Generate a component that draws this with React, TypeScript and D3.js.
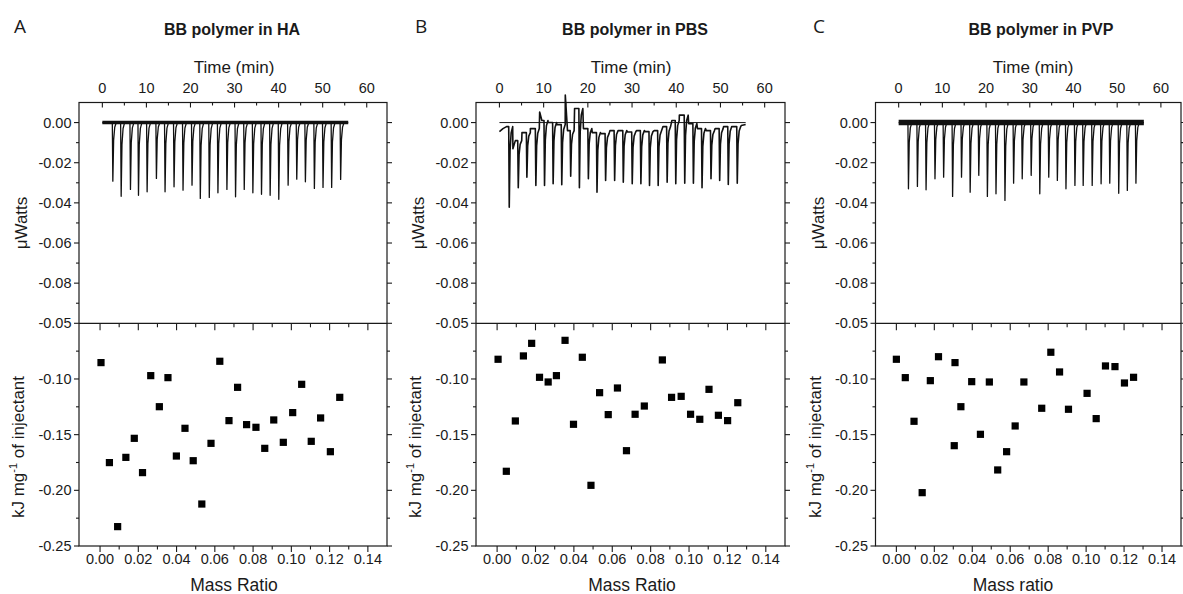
import React from 'react';
import * as d3 from 'd3';

// ---------- Data ----------
const panelLetters = ['A', 'B', 'C'];
const panelTitles = ['BB polymer in HA', 'BB polymer in PBS', 'BB polymer in PVP'];
const massTitles = ['Mass Ratio', 'Mass Ratio', 'Mass ratio'];
const timeTitle = 'Time (min)';
const powerTitle = 'μWatts';

// Integrated heats (kJ mg-1 of injectant) vs mass ratio
const massA = [0.0005, 0.0049, 0.0092, 0.0135, 0.0179, 0.0222, 0.0265, 0.031, 0.0355, 0.0399, 0.0444, 0.0487, 0.0532, 0.058, 0.0626, 0.0674, 0.0719, 0.0766, 0.0815, 0.0861, 0.0908, 0.0958, 0.1007, 0.1054, 0.1104, 0.1153, 0.1204, 0.1253];
const heatA = [-0.0853, -0.1751, -0.2326, -0.1704, -0.1533, -0.1841, -0.097, -0.1249, -0.0988, -0.1692, -0.1443, -0.1734, -0.2123, -0.1578, -0.0841, -0.1374, -0.1075, -0.141, -0.1434, -0.1623, -0.1368, -0.1569, -0.1302, -0.1048, -0.156, -0.135, -0.1653, -0.1165];

const massB = [0.0005, 0.0048, 0.0095, 0.0137, 0.018, 0.0221, 0.0266, 0.0309, 0.0354, 0.0398, 0.0444, 0.0489, 0.0534, 0.0579, 0.0627, 0.0674, 0.0719, 0.0767, 0.0861, 0.0909, 0.0959, 0.1008, 0.1056, 0.1104, 0.1153, 0.1201, 0.1254];
const heatB = [-0.0823, -0.1829, -0.1377, -0.0793, -0.068, -0.0985, -0.1027, -0.097, -0.0653, -0.1407, -0.0805, -0.1955, -0.1123, -0.132, -0.1081, -0.1644, -0.1317, -0.1243, -0.0829, -0.1165, -0.1156, -0.1317, -0.1362, -0.1093, -0.1326, -0.1374, -0.1213];

const massC = [0.0, 0.0047, 0.0093, 0.0136, 0.0179, 0.0222, 0.0305, 0.0309, 0.034, 0.0397, 0.0443, 0.049, 0.0534, 0.0581, 0.0626, 0.0672, 0.0766, 0.0814, 0.086, 0.0907, 0.1005, 0.1053, 0.1102, 0.1152, 0.1202, 0.125];
const heatC = [-0.0823, -0.0988, -0.138, -0.2021, -0.1015, -0.08, -0.1599, -0.0853, -0.1249, -0.1024, -0.1497, -0.1027, -0.1817, -0.1653, -0.1422, -0.1027, -0.1263, -0.076, -0.0937, -0.1272, -0.1129, -0.1356, -0.0883, -0.0889, -0.1036, -0.0985];

// Raw ITC power traces: injection times (min) and peak power (μW)
const spikeTimesA = [2.26, 4.15, 6.26, 8.08, 10.04, 12.15, 14.11, 16.15, 18.19, 20.23, 22.11, 24.15, 26.11, 28.15, 30.11, 32.08, 34.04, 36.0, 37.96, 39.92, 42.04, 44.0, 45.96, 48.0, 49.96, 51.92, 53.96];
const spikePeaksA = [-0.0292, -0.0367, -0.0333, -0.0362, -0.0345, -0.0278, -0.0345, -0.032, -0.0337, -0.0312, -0.0378, -0.0373, -0.035, -0.0333, -0.037, -0.0333, -0.035, -0.0357, -0.0362, -0.0382, -0.0312, -0.0282, -0.0295, -0.0328, -0.0323, -0.0323, -0.0283];
const baseTimesA = [0, 55.8];
const baseValsA = [0.0, 0.0];

const spikeTimesB = [2.1, 4.14, 6.09, 8.12, 10.08, 12.03, 13.98, 16.0, 17.97, 20.0, 21.95, 23.9, 25.94, 27.9, 29.92, 31.88, 33.83, 35.79, 37.82, 39.77, 41.8, 43.76, 45.71, 47.74, 49.7, 51.65, 53.68];
const spikePeaksB = [-0.0422, -0.0325, -0.0272, -0.0313, -0.0313, -0.0305, -0.031, -0.0267, -0.0325, -0.028, -0.0347, -0.0288, -0.0288, -0.0297, -0.0305, -0.0305, -0.0313, -0.0313, -0.0297, -0.0305, -0.0302, -0.0302, -0.0325, -0.028, -0.0288, -0.0308, -0.0302];
const baseTimesB = [0, 0.8, 1.6, 3.05, 3.6, 5.1, 7.0, 9.1, 9.6, 11.0, 13.0, 14.9, 15.4, 17.0, 19.0, 21.0, 23.0, 25.0, 27.0, 29.0, 31.0, 33.0, 35.0, 37.0, 39.0, 40.7, 42.8, 44.8, 46.8, 48.8, 50.7, 52.7, 54.7, 55.7];
const baseValsB = [-0.0045, -0.003, -0.002, -0.013, -0.009, -0.005, -0.003, 0.0053, 0.001, 0.0, -0.001, 0.0137, -0.004, 0.007, -0.003, -0.005, -0.0055, -0.004, -0.004, -0.0047, -0.004, -0.0045, -0.004, -0.002, 0.001, 0.0037, -0.0005, -0.003, -0.004, -0.003, -0.002, -0.002, -0.0015, -0.001];
const zeroLineTimesB = [0, 55.7];

const spikeTimesC = [2.12, 4.17, 6.15, 8.19, 10.17, 12.22, 14.26, 16.24, 18.21, 20.18, 22.15, 24.2, 26.18, 28.15, 30.2, 32.17, 34.22, 36.19, 38.16, 40.21, 42.1, 44.16, 46.2, 48.18, 50.23, 52.2, 54.17];
const spikePeaksC = [-0.033, -0.0318, -0.0335, -0.028, -0.0272, -0.0368, -0.0272, -0.0347, -0.0263, -0.0368, -0.0355, -0.0388, -0.0302, -0.028, -0.0263, -0.0355, -0.0272, -0.0288, -0.033, -0.0313, -0.0313, -0.0313, -0.0305, -0.0302, -0.0352, -0.0338, -0.0302];
const baseTimesC = [0, 56.1];
const baseValsC = [0.0, 0.0];

// Shape of one injection peak: offset (min) after injection, fraction of peak depth
const spikeOffsets = [0, 0.12, 0.3, 0.55, 0.9];
const spikeFractions = [0, 1, 0.3, 0.08, 0];

// Ticks
const timeTicks = [0, 10, 20, 30, 40, 50, 60];
const timeMinorTicks = [5, 15, 25, 35, 45, 55];
const massTicks = [0, 0.02, 0.04, 0.06, 0.08, 0.1, 0.12, 0.14];
const massMinorTicks = [0.01, 0.03, 0.05, 0.07, 0.09, 0.11, 0.13];
const powerTicks = [0, -0.02, -0.04, -0.06, -0.08];
const powerMinorTicks = [-0.01, -0.03, -0.05, -0.07, -0.09];
const heatTicks = [-0.05, -0.1, -0.15, -0.2, -0.25];
const heatMinorTicks = [-0.075, -0.125, -0.175, -0.225];

// ---------- Layout ----------
const W = 1183;
const H = 594;
const TOP = 102.5;
const MID = 323.3;
const BOTTOM = 546;
const INK = '#1a1a1a';
const SANS = '"Liberation Sans", Arial, sans-serif';

const layouts = [
  { left: 79, right: 387, letterX: 14, titleX: 232, timeTitleX: 234, massTitleX: 234, band: 3.5 },
  { left: 476, right: 785, letterX: 415, titleX: 635, timeTitleX: 631, massTitleX: 632, band: 0 },
  { left: 875.5, right: 1181, letterX: 813, titleX: 1041, timeTitleX: 1033, massTitleX: 1013, band: 5.5 },
];

const panelData = [
  { mass: massA, heat: heatA, sT: spikeTimesA, sP: spikePeaksA, bT: baseTimesA, bV: baseValsA, zero: null as number[] | null },
  { mass: massB, heat: heatB, sT: spikeTimesB, sP: spikePeaksB, bT: baseTimesB, bV: baseValsB, zero: zeroLineTimesB },
  { mass: massC, heat: heatC, sT: spikeTimesC, sP: spikePeaksC, bT: baseTimesC, bV: baseValsC, zero: null as number[] | null },
];

// index of the last baseline sample taken at or before time t
function previousIndex(arr: number[], t: number) {
  let best = 0;
  arr.forEach((v, i) => {
    if (v <= t) best = i;
  });
  return best;
}

function buildTrace(bT: number[], bV: number[], sT: number[], sP: number[]) {
  const end = spikeOffsets[spikeOffsets.length - 1];
  const pts: [number, number][] = [];
  bT.forEach((t, i) => {
    if (!sT.some((s) => t > s && t < s + end)) pts.push([t, bV[i]]);
  });
  sT.forEach((s, i) => {
    const b = bV[previousIndex(bT, s)];
    spikeOffsets.forEach((o, k) => pts.push([s + o, b + spikeFractions[k] * (sP[i] - b)]));
  });
  pts.sort((a, b) => a[0] - b[0]);
  return pts;
}

const fmt2 = (v: number) => d3.format('.2f')(v).replace('\u2212', '-');

function Panel({ idx }: { idx: number }) {
  const L = layouts[idx];
  const D = panelData[idx];
  const { left, right } = L;

  const xT = d3.scaleLinear().domain([-5.3, 64.6]).range([left, right]);
  const xM = d3.scaleLinear().domain([-0.011, 0.15]).range([left, right]);
  const yP = d3.scaleLinear().domain([-0.1, 0.01]).range([MID, TOP]);
  const yH = d3.scaleLinear().domain([-0.25, -0.05]).range([BOTTOM, MID]);

  const line = d3
    .line<[number, number]>()
    .x((d) => xT(d[0]))
    .y((d) => yP(d[1]));

  const trace = buildTrace(D.bT, D.bV, D.sT, D.sP);
  const basePts: [number, number][] = D.bT.map((t, i) => [t, D.bV[i]]);

  const sq = 7.2;

  return (
    <g>
      {/* letter and title */}
      <text x={L.letterX} y={33} fontFamily='"Open Sans", sans-serif' fontSize={19} fill={INK}>
        {panelLetters[idx]}
      </text>
      <text x={L.titleX} y={35} textAnchor="middle" fontFamily={SANS} fontWeight="bold" fontSize={16} fill={INK}>
        {panelTitles[idx]}
      </text>

      {/* top time axis */}
      <text x={L.timeTitleX} y={73} textAnchor="middle" fontFamily={SANS} fontSize={17} fill={INK}>
        {timeTitle}
      </text>
      {timeTicks.map((t) => (
        <g key={'tt' + t}>
          <line x1={xT(t)} x2={xT(t)} y1={TOP} y2={TOP + 5} stroke={INK} strokeWidth={1.1} />
          <text x={xT(t)} y={93} textAnchor="middle" fontFamily={SANS} fontSize={14.5} fill={INK}>
            {t}
          </text>
        </g>
      ))}
      {timeMinorTicks.map((t) => (
        <line key={'tm' + t} x1={xT(t)} x2={xT(t)} y1={TOP} y2={TOP + 3} stroke={INK} strokeWidth={1.1} />
      ))}

      {/* power axis (left + right) */}
      {powerTicks.map((v) => (
        <g key={'pt' + v}>
          <line x1={left - 5} x2={left} y1={yP(v)} y2={yP(v)} stroke={INK} strokeWidth={1.1} />
          <line x1={right} x2={right + 5} y1={yP(v)} y2={yP(v)} stroke={INK} strokeWidth={1.1} />
          <text x={left - 7.5} y={yP(v)} dy="0.35em" textAnchor="end" fontFamily={SANS} fontSize={14.5} fill={INK}>
            {fmt2(v)}
          </text>
        </g>
      ))}
      {powerMinorTicks.map((v) => (
        <g key={'pm' + v}>
          <line x1={left - 3} x2={left} y1={yP(v)} y2={yP(v)} stroke={INK} strokeWidth={1.1} />
          <line x1={right} x2={right + 3} y1={yP(v)} y2={yP(v)} stroke={INK} strokeWidth={1.1} />
        </g>
      ))}
      <text
        transform={`translate(${left - 52},${223}) rotate(-90)`}
        textAnchor="middle"
        fontFamily={SANS}
        fontSize={17}
        fill={INK}
      >
        {powerTitle}
      </text>

      {/* heat axis (left + right) */}
      {heatTicks.map((v) => (
        <g key={'ht' + v}>
          <line x1={left - 5} x2={left} y1={yH(v)} y2={yH(v)} stroke={INK} strokeWidth={1.1} />
          <line x1={right} x2={right + 5} y1={yH(v)} y2={yH(v)} stroke={INK} strokeWidth={1.1} />
          <text x={left - 7.5} y={yH(v)} dy="0.35em" textAnchor="end" fontFamily={SANS} fontSize={14.5} fill={INK}>
            {fmt2(v)}
          </text>
        </g>
      ))}
      {heatMinorTicks.map((v) => (
        <g key={'hm' + v}>
          <line x1={left - 3} x2={left} y1={yH(v)} y2={yH(v)} stroke={INK} strokeWidth={1.1} />
          <line x1={right} x2={right + 3} y1={yH(v)} y2={yH(v)} stroke={INK} strokeWidth={1.1} />
        </g>
      ))}
      <text
        transform={`translate(${left - 55},${447}) rotate(-90)`}
        textAnchor="middle"
        fontFamily={SANS}
        fontSize={17}
        fill={INK}
      >
        kJ mg
        <tspan fontSize={11} dy={-7}>-1</tspan>
        <tspan dy={7}> of injectant</tspan>
      </text>

      {/* mass ratio axis: ticks on divider (inward) and bottom (outward) */}
      {massTicks.map((m) => (
        <g key={'mt' + m}>
          <line x1={xM(m)} x2={xM(m)} y1={MID} y2={MID + 7} stroke={INK} strokeWidth={1.1} />
          <line x1={xM(m)} x2={xM(m)} y1={BOTTOM} y2={BOTTOM + 6} stroke={INK} strokeWidth={1.1} />
          <text x={xM(m)} y={564} textAnchor="middle" fontFamily={SANS} fontSize={14.5} fill={INK}>
            {fmt2(m)}
          </text>
        </g>
      ))}
      {massMinorTicks.map((m) => (
        <g key={'mm' + m}>
          <line x1={xM(m)} x2={xM(m)} y1={MID} y2={MID + 4} stroke={INK} strokeWidth={1.1} />
          <line x1={xM(m)} x2={xM(m)} y1={BOTTOM} y2={BOTTOM + 3.5} stroke={INK} strokeWidth={1.1} />
        </g>
      ))}
      <text x={L.massTitleX} y={591} textAnchor="middle" fontFamily={SANS} fontSize={17.5} fill={INK}>
        {massTitles[idx]}
      </text>

      {/* frame */}
      <rect x={left} y={TOP} width={right - left} height={BOTTOM - TOP} fill="none" stroke={INK} strokeWidth={1.2} />
      <line x1={left} x2={right} y1={MID} y2={MID} stroke={INK} strokeWidth={1.2} />

      {/* raw trace */}
      {D.zero && (
        <line x1={xT(D.zero[0])} x2={xT(D.zero[1])} y1={yP(0)} y2={yP(0)} stroke={INK} strokeWidth={1} />
      )}
      {L.band > 0 && (
        <path d={line(basePts) || ''} fill="none" stroke="#111" strokeWidth={L.band} />
      )}
      <path d={line(trace) || ''} fill="none" stroke="#111" strokeWidth={L.band > 0 ? 1.3 : 1.6} strokeLinejoin="round" />

      {/* integrated heats */}
      {D.mass.map((m, i) => (
        <rect key={'p' + i} x={xM(m) - sq / 2} y={yH(D.heat[i]) - sq / 2} width={sq} height={sq} fill="#000" />
      ))}
    </g>
  );
}

export default function App() {
  return (
    <svg
      width={W}
      height={H}
      viewBox={`0 0 ${W} ${H}`}
      style={{ position: 'absolute', left: 0, top: 0, background: '#fff' }}
    >
      <rect x={0} y={0} width={W} height={H} fill="#fff" />
      {[0, 1, 2].map((i) => (
        <Panel key={i} idx={i} />
      ))}
    </svg>
  );
}
